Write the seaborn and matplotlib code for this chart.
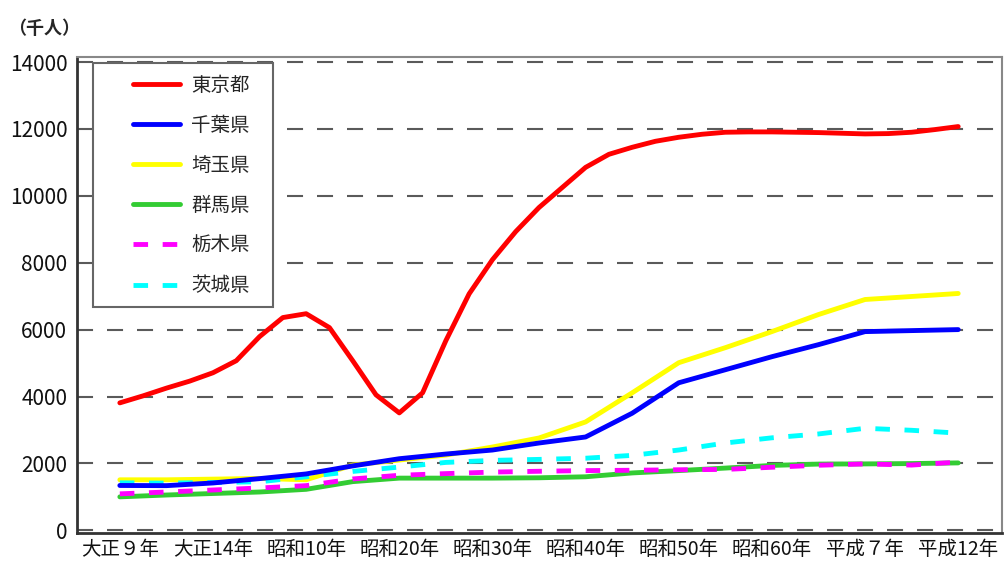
import matplotlib
matplotlib.use("Agg")
import matplotlib.pyplot as plt
from matplotlib.patches import Rectangle
import seaborn as sns
import pandas as pd

# 国勢調査年のラベル（カテゴリ軸）
year_labels = ["大正９年", "大正14年", "昭和10年", "昭和20年", "昭和30年",
               "昭和40年", "昭和50年", "昭和60年", "平成７年", "平成12年"]

# 図から読み取った値（千人）: 東京都は1/4区間ごと、他は1/2区間ごと
tokyo_pos = [i / 4 for i in range(37)]
tokyo = [3810, 4020, 4250, 4460, 4710, 5070, 5790, 6360, 6475, 6060,
         5070, 4050, 3510, 4110, 5670, 7070, 8090, 8930, 9650, 10250,
         10850, 11240, 11450, 11630, 11750, 11840, 11900, 11910, 11910, 11900,
         11890, 11870, 11850, 11860, 11900, 11980, 12070]

positions = [i / 2 for i in range(19)]
chiba = [1340, 1335, 1415, 1545, 1685, 1925, 2140, 2280, 2400, 2610,
         2790, 3500, 4410, 4800, 5190, 5550, 5940, 5970, 6000]
saitama = [1510, 1510, 1530, 1550, 1510, 1950, 2100, 2250, 2490, 2760,
           3240, 4110, 5010, 5460, 5940, 6450, 6900, 6990, 7080]
gunma = [1000, 1055, 1100, 1145, 1225, 1455, 1560, 1560, 1560, 1570,
         1600, 1715, 1785, 1860, 1940, 1980, 1985, 1995, 2015]
tochigi = [1090, 1145, 1205, 1265, 1335, 1535, 1645, 1695, 1740, 1765,
           1785, 1795, 1810, 1820, 1885, 1945, 1985, 1950, 2040]
ibaraki = [1420, 1410, 1430, 1450, 1600, 1760, 1890, 2030, 2090, 2120,
           2155, 2240, 2400, 2610, 2765, 2880, 3050, 2990, 2905]

prefs = ["東京都", "千葉県", "埼玉県", "群馬県", "栃木県", "茨城県"]
colors = {"東京都": "#FF0000", "千葉県": "#0000FF", "埼玉県": "#FFFF00",
          "群馬県": "#33CC33", "栃木県": "#FF00FF", "茨城県": "#00FFFF"}
dashes = {"東京都": "", "千葉県": "", "埼玉県": "", "群馬県": "",
          "栃木県": (3, 3), "茨城県": (3, 3)}

frames = [pd.DataFrame({"pos": tokyo_pos, "value": tokyo, "pref": "東京都"})]
for name, vals in zip(prefs[1:], [chiba, saitama, gunma, tochigi, ibaraki]):
    frames.append(pd.DataFrame({"pos": positions, "value": vals, "pref": name}))
df = pd.concat(frames, ignore_index=True)

sns.set_style("white")
plt.rcParams["font.family"] = ["Noto Sans CJK JP", "DejaVu Sans"]

fig = plt.figure(figsize=(10.05, 5.67), dpi=100)
ax = fig.add_axes([0.0766, 0.06, 0.9204, 0.8395])

sns.lineplot(data=df, x="pos", y="value", hue="pref", style="pref",
             hue_order=prefs, style_order=prefs, sort=False,
             palette=colors, dashes=dashes, linewidth=3.5, ax=ax)

# 重なり順と線の継ぎ目
zorders = [6, 5, 3, 2, 4, 3]
for line, z in zip(ax.lines, zorders):
    line.set_zorder(z)
    line.set_solid_joinstyle("round")
    line.set_dash_joinstyle("round")

ax.set_xlim(-0.46, 9.47)
ax.set_ylim(-80, 14150)
ax.set_xticks(range(len(year_labels)))
ax.set_xticklabels(year_labels)
ax.set_yticks(range(0, 14001, 2000))
ax.tick_params(axis="both", length=0, colors="#111111")
ax.tick_params(axis="y", pad=7, labelsize=15)
ax.tick_params(axis="x", pad=4, labelsize=14)
ax.set_xlabel("")
ax.set_ylabel("")

ax.yaxis.grid(True, color="#5a5a5a", linewidth=1.5, linestyle=(0, (7.7, 6.7)))
ax.set_axisbelow(True)

for side in ["left", "bottom"]:
    ax.spines[side].set_color("#333333")
    ax.spines[side].set_linewidth(2)
for side in ["top", "right"]:
    ax.spines[side].set_color("#888888")
    ax.spines[side].set_linewidth(1.5)

# 凡例（枠は別に描く）
sns.move_legend(ax, "upper left", bbox_to_anchor=(0.0605, 0.962),
                borderaxespad=0, title=None, frameon=False,
                fontsize=14, handlelength=2.4, handletextpad=0.6,
                labelspacing=0.98, borderpad=0)
leg = ax.get_legend()
leg.set_zorder(8)
for h in leg.get_lines():
    h.set_linewidth(3.5)
ax.add_patch(Rectangle((0.0173, 0.4748), 0.1946, 0.5126, transform=ax.transAxes,
                       facecolor="white", edgecolor="#666666", linewidth=1.5,
                       zorder=7))

fig.text(0.008, 1 - 28 / 567, "（千人）", fontsize=13, fontweight="bold",
         va="center", ha="left")

fig.savefig("out.png", dpi=100)
